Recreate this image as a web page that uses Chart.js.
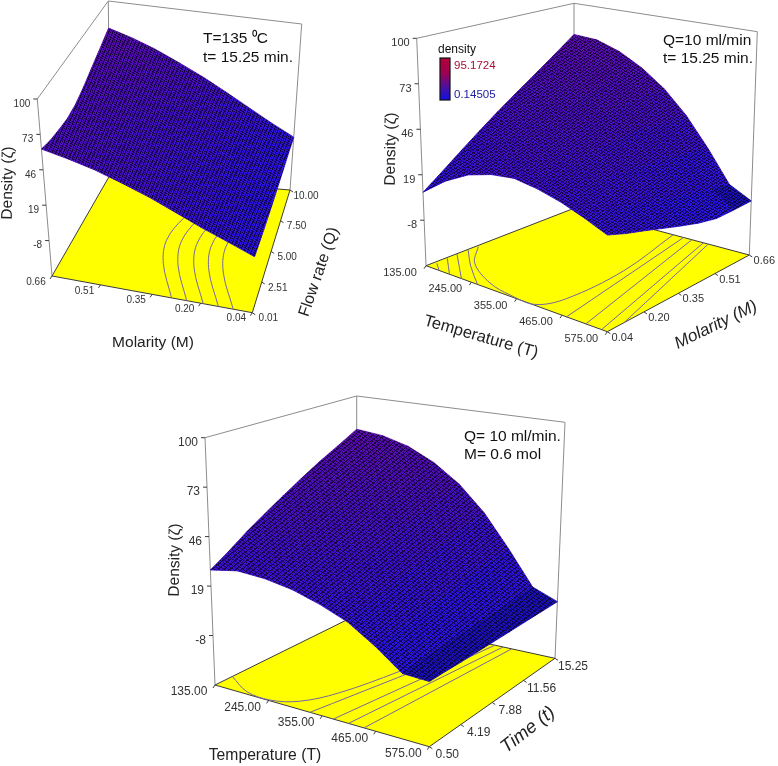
<!DOCTYPE html>
<html>
<head>
<meta charset="utf-8">
<title>Density response surfaces</title>
<script src="https://cdn.jsdelivr.net/npm/chart.js@4/dist/chart.umd.min.js"></script>
<style>
  html, body { margin: 0; padding: 0; background: #fff; }
  #page { position: relative; width: 778px; height: 766px; overflow: hidden; }
  canvas { position: absolute; }
</style>
</head>
<body>
<div id="page"></div>
<script>
// ── Axis ticks ────────────────────────────────────────────────────────────────
const densityTicks = ['100', '73', '46', '19', '-8'];
const molarityTicks = ['0.66', '0.51', '0.35', '0.20', '0.04'];
const flowTicks = ['0.01', '2.51', '5.00', '7.50', '10.00'];
const temperatureTicks = ['135.00', '245.00', '355.00', '465.00', '575.00'];
const molarityUpTicks = ['0.04', '0.20', '0.35', '0.51', '0.66'];
const timeTicks = ['0.50', '4.19', '7.88', '11.56', '15.25'];

// ── Surface grids ─────────────────────────────────────────────────────────────
const molarityDown = [0.66, 0.585, 0.51, 0.43, 0.35, 0.275, 0.2, 0.12, 0.04];
const molarityUp = [0.04, 0.12, 0.2, 0.275, 0.35, 0.43, 0.51, 0.585, 0.66];
const flowGrid = [0.01, 1.25, 2.51, 3.75, 5, 6.25, 7.5, 8.75, 10];
const temperatureGrid = [135, 190, 245, 300, 355, 410, 465, 520, 575];
const timeGrid = [0.5, 2.35, 4.19, 6.04, 7.88, 9.72, 11.56, 13.41, 15.25];

// rows = flow rate, columns = molarity (0.66 -> 0.04)
const densityMolarityFlow = [
  [61.8, 57.5, 52.4, 45.5, 38, 30, 22, 14.5, 7],
  [59, 54.5, 49.5, 43, 36, 29, 21, 13.5, 6.5],
  [57.5, 53, 48, 42, 35, 28, 20.5, 13, 6],
  [56.5, 52.3, 47.5, 41.5, 35, 28, 20.5, 13, 6],
  [58, 53.5, 48.5, 42.5, 35.5, 28.5, 21, 13.5, 6],
  [62, 57, 51, 44.5, 37, 30, 22, 14, 6.5],
  [67.5, 61.5, 55, 48, 40.5, 32.5, 24, 15, 7],
  [73, 67, 60, 52.5, 44.5, 35.5, 26, 16.5, 7.5],
  [79, 73.5, 66.8, 58, 48.7, 39, 28.8, 18, 8]
];
// rows = molarity, columns = temperature
const densityTempMolarity = [
  [8.6, 20, 28.5, 33.5, 36, 34.5, 31.5, 27, 21.7],
  [17, 27.5, 35.5, 40, 41, 38.5, 33, 25.5, 17],
  [26, 35.5, 42.5, 46, 45.5, 41, 33.5, 23, 13],
  [34.5, 43.5, 49.5, 51.5, 49.5, 43, 33, 20, 9],
  [43, 51.5, 56, 56.5, 52, 44, 32, 16.5, 5],
  [52, 59.5, 62, 60.5, 54, 44.5, 30, 13, 1],
  [61, 67, 67.5, 63.5, 55, 43.5, 28, 9.5, -2],
  [70, 73.5, 71, 65, 55.5, 42.5, 26, 6.5, -2.3],
  [79.5, 78.5, 73.5, 65.5, 55, 41, 23.5, 4.5, -2.3]
];
// rows = time, columns = temperature
const densityTempTime = [
  [27.8, 31.3, 31, 29, 25, 19.6, 10.6, 0, -0.3],
  [34, 37, 36.5, 34, 29.5, 22.5, 12, 1, -0.5],
  [41, 43, 42, 39, 34, 25.5, 13.5, 1.3, -1],
  [47.5, 49, 47.5, 44, 38, 28.5, 15, 1.5, -1.2],
  [54, 55, 53, 49, 42, 31, 16.5, 1.7, -1.5],
  [60.5, 61, 58.5, 53.5, 46, 33.5, 18, 1.9, -1.8],
  [67, 66.5, 64, 58, 49.5, 36, 19.5, 2, -2],
  [73, 72, 68.5, 62, 52.5, 38.5, 21, 2.5, -2.3],
  [79.5, 77.8, 73.5, 66, 55.5, 41, 22.5, 3, -2.6]
];

// ── Floor contours as [first axis, second axis] value pairs ───────────────────
const contoursMolarityFlow = [
  [[0.29, 0.01], [0.356, 2.74], [0.377, 4.75], [0.354, 6.78], [0.29, 9]],
  [[0.243, 0.01], [0.309, 2.74], [0.33, 4.75], [0.307, 6.78], [0.243, 9]],
  [[0.192, 0.01], [0.258, 2.74], [0.279, 4.75], [0.256, 6.78], [0.192, 9]],
  [[0.145, 0.01], [0.211, 2.74], [0.232, 4.75], [0.209, 6.78], [0.145, 9]],
  [[0.099, 0.01], [0.165, 2.74], [0.186, 4.75], [0.163, 6.78], [0.099, 9]]
];
const contoursTempMolarity = [
  [[167, 0.04], [141, 0.075]],
  [[192, 0.04], [138, 0.124]],
  [[221, 0.04], [136, 0.168]],
  [[260, 0.04], [194, 0.126], [137, 0.213]],
  [[139, 0.252], [190, 0.15], [272, 0.072], [335, 0.047], [397, 0.045], [424, 0.132], [424, 0.378], [384, 0.66]],
  [[476, 0.04], [410, 0.66]],
  [[523, 0.04], [431, 0.66]],
  [[561, 0.04], [460, 0.66]],
  [[575, 0.113], [472, 0.66]]
];
const contoursTempTime = [
  [[135, 2.3], [194, 0.83], [246, 0.6], [289, 1.53], [323, 3.95], [358, 8.8], [395, 15.25]],
  [[330, 0.5], [420, 15.25]],
  [[378, 0.5], [442, 15.25]],
  [[409, 0.5], [460, 15.25]],
  [[441, 0.5], [479, 15.25]]
];

// ── Panels: box corners on the page, order is left, front, right, back ────────
const DENSITY_MIN = -35, DENSITY_MAX = 100;
const MESH_LINES = 64, TILE = 20;

const panels = [
  {
    rect: [0, 0, 345, 365], tickSize: 10,
    floor: [[52, 276], [252.3, 312.7], [290, 190], [110, 175]],
    roof: [[37.3, 99], [259.7, 132.7], [301.7, 24], [108.3, 1]],
    uGrid: molarityDown, vGrid: flowGrid, density: densityMolarityFlow, contours: contoursMolarityFlow,
    uTicks: molarityTicks, vTicks: flowTicks, uOff: [-16, 6], vOff: [16, 6],
    notes: [['T=135 \u2070C', 203, 43], ['t= 15.25 min.', 203, 62]],
    titles: [
      ['Density (\u03b6)', 8, 183, -89, false, 15.5],
      ['Molarity (M)', 153, 343, 0, false, 15.5],
      ['Flow rate (Q)', 319, 272, -71, false, 16]
    ]
  },
  {
    rect: [345, 0, 433, 375], tickSize: 11,
    floor: [[426, 265.7], [607.3, 331.7], [749.3, 255], [574, 208.3]],
    roof: [[416.7, 38.3], [607.6, 101.7], [757.3, 31.7], [574, 3.3]],
    uGrid: temperatureGrid, vGrid: molarityUp, density: densityTempMolarity, contours: contoursTempMolarity,
    uTicks: temperatureTicks, vTicks: molarityUpTicks, uOff: [-26, 7], vOff: [15, 6],
    notes: [['Q=10 ml/min', 663, 45], ['t= 15.25 min.', 663, 63]],
    titles: [
      ['Density (\u03b6)', 391, 149, -89, false, 15.5],
      ['Temperature (T)', 481, 337, 16, false, 16.5],
      ['Molarity (M)', 716, 325, -26, true, 17]
    ],
    legend: true
  },
  {
    rect: [160, 375, 440, 391], tickSize: 12,
    floor: [[215, 685], [429.3, 746.7], [555, 658.3], [356.7, 615]],
    roof: [[205, 437.7], [430, 493.3], [565, 422.3], [356.7, 396]],
    uGrid: temperatureGrid, vGrid: timeGrid, density: densityTempTime, contours: contoursTempTime,
    uTicks: temperatureTicks, vTicks: timeTicks, uOff: [-26, 7], vOff: [18, 8],
    notes: [['Q= 10 ml/min.', 464, 441], ['M= 0.6 mol', 464, 459]],
    titles: [
      ['Density (\u03b6)', 175, 560, -89, false, 15.5],
      ['Temperature (T)', 265, 756, 0, false, 15.7],
      ['Time (t)', 528, 730, -38, true, 18.5]
    ]
  }
];

// ── Projection ────────────────────────────────────────────────────────────────
function bilinear(c, s, t) {
  const a = (1 - s) * (1 - t), b = s * (1 - t), d = s * t, e = (1 - s) * t;
  return [a * c[0][0] + b * c[1][0] + d * c[2][0] + e * c[3][0],
          a * c[0][1] + b * c[1][1] + d * c[2][1] + e * c[3][1]];
}

function project(p, s, t, z) {
  const f = bilinear(p.floor, s, t), r = bilinear(p.roof, s, t);
  const k = (z - DENSITY_MIN) / (DENSITY_MAX - DENSITY_MIN);
  return { x: f[0] + (r[0] - f[0]) * k, y: f[1] + (r[1] - f[1]) * k };
}

function frac(list, value) {
  const a = list[0], b = list[list.length - 1];
  return (value - a) / (b - a);
}

function node(p, i, j) {
  return project(p, frac(p.uGrid, p.uGrid[i]), frac(p.vGrid, p.vGrid[j]), p.density[j][i]);
}

// ── Colours: blue low on the surface, violet high, darker on the flat bottom ──
function cellColour(z) {
  if (z < 2.5) return 'rgb(26,16,185)';
  const k = Math.min(1, (z + 5) / 85);
  return 'rgb(' + Math.round(34 + 58 * k) + ',' + Math.round(20 - 10 * k) + ',' + Math.round(232 - 62 * k) + ')';
}

// Dark mesh lines as one see-through pattern skewed along the surface
function meshPattern(ctx, p) {
  const tile = document.createElement('canvas');
  tile.width = TILE; tile.height = TILE;
  const c = tile.getContext('2d');
  c.fillStyle = 'rgba(10,0,40,0.78)';
  c.fillRect(0, 0, TILE, 5);
  c.fillRect(0, 0, 5, TILE);
  const last = p.uGrid.length - 1, top = p.vGrid.length - 1;
  const a = node(p, 0, 0), b = node(p, last, 0), d = node(p, 0, top), e = node(p, last, top);
  const n = MESH_LINES * TILE * 2;
  const pat = ctx.createPattern(tile, 'repeat');
  pat.setTransform(new DOMMatrix([
    (b.x - a.x + e.x - d.x) / n, (b.y - a.y + e.y - d.y) / n,
    (d.x - a.x + e.x - b.x) / n, (d.y - a.y + e.y - b.y) / n,
    a.x - p.rect[0], a.y - p.rect[1]
  ]));
  return pat;
}

function lineSet(data, color, width, extra) {
  return Object.assign({
    data: data, showLine: true, pointRadius: 0, borderColor: color, borderWidth: width,
    fill: false, tension: 0, clip: false
  }, extra || {});
}

// ── Datasets, listed back to front ────────────────────────────────────────────
function buildDatasets(p, ctx) {
  const sets = [];
  const gray = '#8c8c8c', dark = '#3a3a3a';

  // walls
  [0, 3, 2].forEach(function(i) {
    sets.push(lineSet([{ x: p.floor[i][0], y: p.floor[i][1] }, { x: p.roof[i][0], y: p.roof[i][1] }], gray, 1));
  });
  sets.push(lineSet([0, 3, 2].map(function(i) { return { x: p.roof[i][0], y: p.roof[i][1] }; }), gray, 1));

  // floor
  const floorPts = [0, 1, 2, 3, 0].map(function(i) { return { x: p.floor[i][0], y: p.floor[i][1] }; });
  sets.push(lineSet(floorPts, dark, 1, { fill: 'shape', backgroundColor: '#ffff00' }));

  // density ticks on the left wall
  densityTicks.forEach(function(label) {
    const a = project(p, 0, 0, parseFloat(label));
    sets.push(lineSet([a, { x: a.x - 4, y: a.y }], dark, 1));
  });
  // floor ticks
  p.uTicks.forEach(function(label) {
    const a = project(p, frac(p.uGrid, parseFloat(label)), 0, DENSITY_MIN);
    sets.push(lineSet([a, { x: a.x - 2, y: a.y + 3 }], dark, 1));
  });
  p.vTicks.forEach(function(label) {
    const a = project(p, 1, frac(p.vGrid, parseFloat(label)), DENSITY_MIN);
    sets.push(lineSet([a, { x: a.x + 3, y: a.y + 2 }], dark, 1));
  });

  // contours
  p.contours.forEach(function(line) {
    const pts = line.map(function(v) {
      return project(p, frac(p.uGrid, v[0]), frac(p.vGrid, v[1]), DENSITY_MIN);
    });
    sets.push(lineSet(pts, '#7766a4', 1, { tension: 0.35 }));
  });

  // surface cells, far ones first
  const nu = p.uGrid.length, nv = p.vGrid.length;
  const cells = [];
  for (let j = 0; j < nv - 1; j++) {
    for (let i = 0; i < nu - 1; i++) {
      const zs = [p.density[j][i], p.density[j][i + 1], p.density[j + 1][i + 1], p.density[j + 1][i]];
      cells.push({
        depth: bilinear(p.floor, (frac(p.uGrid, p.uGrid[i]) + frac(p.uGrid, p.uGrid[i + 1])) / 2,
                        (frac(p.vGrid, p.vGrid[j]) + frac(p.vGrid, p.vGrid[j + 1])) / 2)[1],
        z: (zs[0] + zs[1] + zs[2] + zs[3]) / 4,
        pts: [node(p, i, j), node(p, i + 1, j), node(p, i + 1, j + 1), node(p, i, j + 1)]
      });
    }
  }
  cells.sort(function(a, b) { return a.depth - b.depth; });
  cells.forEach(function(c) {
    const col = cellColour(c.z);
    sets.push(lineSet(c.pts.concat([c.pts[0]]), col, 0.8, { fill: 'shape', backgroundColor: col }));
  });

  // mesh over the whole outline of the surface
  const outline = [];
  for (let i = 0; i < nu; i++) outline.push(node(p, i, 0));
  for (let j = 1; j < nv; j++) outline.push(node(p, nu - 1, j));
  for (let i = nu - 2; i >= 0; i--) outline.push(node(p, i, nv - 1));
  for (let j = nv - 2; j >= 0; j--) outline.push(node(p, 0, j));
  sets.push(lineSet(outline, 'rgba(0,0,0,0)', 0, { fill: 'shape', backgroundColor: meshPattern(ctx, p) }));

  // first dataset in the list is painted first
  sets.forEach(function(s, i) { s.order = sets.length - i; });
  return sets;
}

// ── Text layer ────────────────────────────────────────────────────────────────
const textLayer = {
  id: 'textLayer',
  afterDraw: function(chart, args, opts) {
    const p = opts.panel, c = chart.ctx;
    const sx = chart.scales.x, sy = chart.scales.y;
    function put(txt, x, y, font, color, align, base, rot) {
      c.save();
      c.translate(sx.getPixelForValue(x), sy.getPixelForValue(y));
      if (rot) c.rotate(rot * Math.PI / 180);
      c.font = font; c.fillStyle = color;
      c.textAlign = align; c.textBaseline = base;
      c.fillText(txt, 0, 0);
      c.restore();
    }
    const tickFont = p.tickSize + 'px "Liberation Sans"';
    densityTicks.forEach(function(label) {
      const a = project(p, 0, 0, parseFloat(label));
      put(label, a.x - 7, a.y + 5, tickFont, '#333', 'right', 'middle');
    });
    p.uTicks.forEach(function(label) {
      const a = project(p, frac(p.uGrid, parseFloat(label)), 0, DENSITY_MIN);
      put(label, a.x + p.uOff[0], a.y + p.uOff[1], tickFont, '#333', 'center', 'middle');
    });
    p.vTicks.forEach(function(label) {
      const a = project(p, 1, frac(p.vGrid, parseFloat(label)), DENSITY_MIN);
      put(label, a.x + p.vOff[0], a.y + p.vOff[1], tickFont, '#333', 'center', 'middle');
    });
    p.titles.forEach(function(t) {
      put(t[0], t[1], t[2], (t[4] ? 'italic ' : '') + t[5] + 'px "Liberation Sans"', '#222', 'center', 'middle', t[3]);
    });
    p.notes.forEach(function(n) {
      put(n[0], n[1], n[2], '15.5px "Liberation Sans"', '#111', 'left', 'alphabetic');
    });
    if (p.legend) {
      const x0 = sx.getPixelForValue(440), y0 = sy.getPixelForValue(58);
      const g = c.createLinearGradient(0, y0, 0, y0 + 42);
      g.addColorStop(0, '#b00038'); g.addColorStop(0.35, '#a00050');
      g.addColorStop(0.7, '#4a10a0'); g.addColorStop(1, '#1010e0');
      c.fillStyle = g; c.fillRect(x0, y0, 10, 42);
      c.strokeStyle = '#111'; c.lineWidth = 1.2; c.strokeRect(x0, y0, 10, 42);
      put('density', 438, 53, '12px "Liberation Sans"', '#111', 'left', 'alphabetic');
      put('95.1724', 454, 69, '11.5px "Liberation Sans"', '#a81038', 'left', 'alphabetic');
      put('0.14505', 454, 98, '11.5px "Liberation Sans"', '#2020a0', 'left', 'alphabetic');
    }
  }
};

// ── Charts ────────────────────────────────────────────────────────────────────
panels.forEach(function(p) {
  const canvas = document.createElement('canvas');
  canvas.width = p.rect[2]; canvas.height = p.rect[3];
  canvas.style.left = p.rect[0] + 'px';
  canvas.style.top = p.rect[1] + 'px';
  document.getElementById('page').appendChild(canvas);
  const ctx = canvas.getContext('2d');
  new Chart(ctx, {
    type: 'scatter',
    data: { datasets: buildDatasets(p, ctx) },
    options: {
      responsive: false, animation: false, devicePixelRatio: 1,
      layout: { padding: 0 },
      scales: {
        x: { type: 'linear', display: false, min: p.rect[0], max: p.rect[0] + p.rect[2] },
        y: { type: 'linear', display: false, min: p.rect[1], max: p.rect[1] + p.rect[3], reverse: true }
      },
      plugins: { legend: { display: false }, tooltip: { enabled: false }, textLayer: { panel: p } }
    },
    plugins: [textLayer]
  });
});
</script>
</body>
</html>
